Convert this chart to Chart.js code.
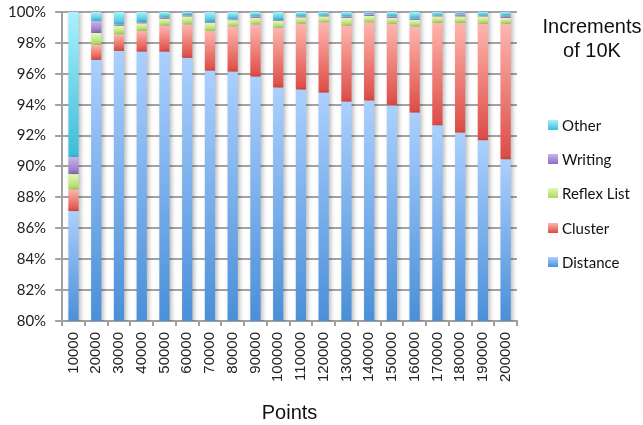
<!DOCTYPE html>
<html><head><meta charset="utf-8">
<style>html,body{margin:0;padding:0;background:#fff}#wrap{width:643px;height:425px}</style>
<script src="https://cdn.jsdelivr.net/npm/chart.js@4.4.1/dist/chart.umd.min.js"></script>
</head><body><div id="wrap"><canvas id="c" width="643" height="425"></canvas></div>
<script>
const categories = ['10000','20000','30000','40000','50000','60000','70000','80000','90000','100000','110000','120000','130000','140000','150000','160000','170000','180000','190000','200000'];
const distance = [87.10,96.90,97.48,97.42,97.42,97.03,96.19,96.13,95.81,95.10,94.97,94.77,94.19,94.26,93.94,93.48,92.65,92.19,91.68,90.45];
const cluster  = [1.40,0.96,1.06,1.35,1.68,2.15,2.58,2.92,3.37,3.87,4.26,4.54,4.91,5.05,5.29,5.57,6.64,7.10,7.55,8.78];
const reflex   = [1.00,0.78,0.56,0.48,0.45,0.52,0.52,0.41,0.43,0.45,0.41,0.39,0.51,0.43,0.38,0.43,0.41,0.41,0.47,0.38];
const writing  = [1.10,0.76,0.08,0.10,0.08,0.10,0.06,0.06,0.09,0.06,0.06,0.06,0.09,0.11,0.09,0.09,0.06,0.15,0.06,0.15];
const other    = [9.40,0.60,0.82,0.65,0.37,0.20,0.65,0.48,0.30,0.52,0.30,0.24,0.30,0.15,0.30,0.43,0.24,0.15,0.24,0.24];
const yTicks = [80,82,84,86,88,90,92,94,96,98,100];
const legendTitle = ['Increments','of 10K'];
const xTitle = 'Points';

const series = [distance, cluster, reflex, writing, other];
const names = ['Distance','Cluster','Reflex List','Writing','Other'];
const palettes = [
  ['#abd0ff','#4a8fd8'],
  ['#ffb5ae','#dc4b44'],
  ['#e4f8b4','#aad862'],
  ['#cbb4ea','#8c6cbf'],
  ['#a9f1fd','#3dbcd9']
];

function gradFor(d){
  return function(ctx){
    const chart = ctx.chart, area = chart.chartArea;
    if (!area || ctx.type !== 'data') return palettes[d][1];
    const ys = chart.scales.y, i = ctx.dataIndex;
    let base = 0;
    for (let k = 0; k < d; k++) base += series[k][i];
    const top = base + series[d][i];
    let y0 = ys.getPixelForValue(top), y1 = ys.getPixelForValue(base);
    y1 = Math.min(y1, area.bottom); y0 = Math.max(y0, area.top - 1);
    if (y1 - y0 < 1) y1 = y0 + 1;
    const g = chart.ctx.createLinearGradient(0, y0, 0, y1);
    g.addColorStop(0, palettes[d][0]); g.addColorStop(1, palettes[d][1]);
    return g;
  };
}

const shadowPlugin = {
  id: 'shadow',
  beforeDatasetsDraw(chart){ const c = chart.ctx; c.save(); c.shadowColor='rgba(0,0,0,0.28)'; c.shadowBlur=4; c.shadowOffsetX=2; c.shadowOffsetY=0; },
  afterDatasetsDraw(chart){ chart.ctx.restore(); }
};

const legendPlugin = {
  id: 'customLegend',
  afterDraw(chart){
    const c = chart.ctx; c.save();
    c.fillStyle = '#111'; c.textAlign = 'center'; c.textBaseline = 'middle';
    c.font = '20px "Liberation Sans"';
    c.fillText(legendTitle[0], 592, 27);
    c.fillText(legendTitle[1], 592, 51);
    c.font = '15px Lato'; c.textAlign = 'left';
    const ys = [262, 228, 193, 159, 125];
    for (let d = 0; d < names.length; d++){
      const y = ys[d];
      const g = c.createLinearGradient(0, y-5, 0, y+5);
      g.addColorStop(0, palettes[d][0]); g.addColorStop(1, palettes[d][1]);
      c.fillStyle = g; c.fillRect(548, y-5, 10, 10);
      c.fillStyle = '#111'; c.fillText(names[d], 562, y+1);
    }
    c.restore();
  }
};

new Chart(document.getElementById('c'), {
  type: 'bar',
  data: {
    labels: categories,
    datasets: series.map((s, d) => ({
      label: names[d], data: s, backgroundColor: gradFor(d), borderWidth: 0,
      barPercentage: 0.45, categoryPercentage: 1.0
    }))
  },
  options: {
    responsive: false, animation: false, devicePixelRatio: 1,
    layout: { padding: { top: 12, left: -1, right: 126, bottom: 0 } },
    plugins: { legend: { display: false }, tooltip: { enabled: false } },
    scales: {
      x: {
        stacked: true,
        grid: { display: true, drawOnChartArea: false, drawTicks: true, tickLength: 5, color: '#a0a0a0', lineWidth: 2, offset: true },
        border: { color: '#a0a0a0', width: 2 },
        ticks: { minRotation: 90, maxRotation: 90, padding: 6, color: '#222', font: { family: 'Liberation Sans', size: 15 } },
        title: { display: true, text: xTitle, color: '#111', font: { family: 'Liberation Sans', size: 20 }, padding: { top: 13, bottom: 0 } }
      },
      y: {
        stacked: true, min: 80, max: 100,
        afterBuildTicks(axis){ axis.ticks = yTicks.map(v => ({ value: v })); },
        afterFit(axis){ axis.paddingTop = 0; },
        grid: { color: '#a3a3a3', lineWidth: 2, tickLength: 7 },
        border: { color: '#a0a0a0', width: 2 },
        ticks: { padding: 9, color: '#222', font: { family: 'Lato', size: 15 }, callback: v => v + '%' }
      }
    }
  },
  plugins: [shadowPlugin, legendPlugin]
});
</script></body></html>
